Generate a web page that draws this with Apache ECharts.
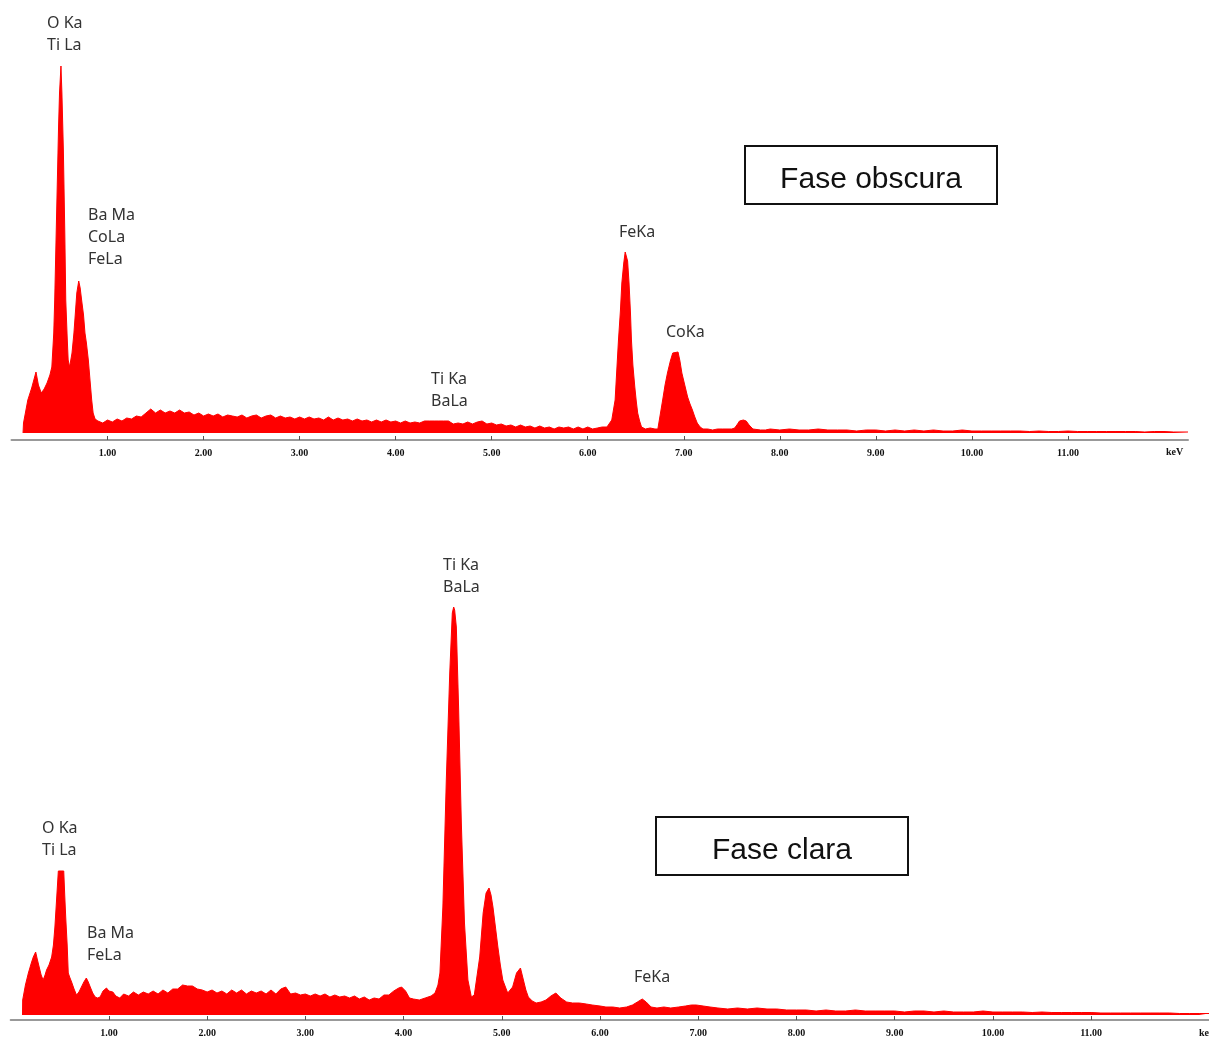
<!DOCTYPE html>
<html lang="es">
<head>
    <meta charset="UTF-8">
    <title>EDS - Fase obscura / Fase clara</title>
    <script src="https://cdn.jsdelivr.net/npm/echarts@6.0.0/dist/echarts.min.js"></script>
    <style>
        html, body { margin: 0; padding: 0; background: #fff; }
        #main { width: 1209px; height: 1038px; }
    </style>
</head>
<body>
    <div id="main"></div>
    <script>
        // Spectrum: [energy keV, counts (arbitrary units)]
        var darkPhase = [
            [0.12, 0], [0.125, 10], [0.17, 33], [0.21, 45], [0.255, 61], [0.28, 48], [0.31, 40], [0.34, 44],
            [0.37, 50], [0.40, 58], [0.42, 66], [0.44, 100], [0.45, 133], [0.47, 220], [0.49, 306], [0.50, 340],
            [0.515, 367], [0.525, 340], [0.54, 283], [0.555, 200], [0.565, 133], [0.58, 95], [0.59, 73],
            [0.605, 66], [0.615, 68], [0.63, 80], [0.65, 100], [0.665, 120], [0.68, 140], [0.70, 152],
            [0.715, 145], [0.73, 133], [0.75, 118], [0.765, 100], [0.78, 90], [0.80, 73], [0.82, 50],
            [0.835, 33], [0.85, 20], [0.87, 14],
            [0.90, 12], [0.95, 10], [1.00, 13], [1.05, 11], [1.10, 14], [1.15, 12], [1.20, 15], [1.25, 14],
            [1.30, 17], [1.35, 16], [1.40, 20], [1.45, 24], [1.50, 20], [1.55, 23], [1.60, 20], [1.65, 22],
            [1.70, 20], [1.75, 23], [1.80, 20], [1.85, 21], [1.90, 18], [1.95, 20], [2.00, 17], [2.05, 19],
            [2.10, 17], [2.15, 19], [2.20, 16], [2.25, 18], [2.30, 17], [2.35, 16], [2.40, 18], [2.45, 15],
            [2.50, 17], [2.55, 18], [2.60, 15], [2.65, 17], [2.70, 18], [2.75, 15], [2.80, 17], [2.85, 15],
            [2.90, 16], [2.95, 14], [3.00, 16], [3.05, 14], [3.10, 16], [3.15, 14], [3.20, 15], [3.25, 13],
            [3.30, 16], [3.35, 13], [3.40, 15], [3.45, 13], [3.50, 14], [3.55, 12], [3.60, 14], [3.65, 12],
            [3.70, 13], [3.75, 11], [3.80, 13], [3.85, 11], [3.90, 13], [3.95, 11], [4.00, 12], [4.05, 10],
            [4.10, 12], [4.15, 10], [4.20, 11], [4.25, 10], [4.30, 12], [4.35, 12], [4.40, 12], [4.45, 12],
            [4.50, 12], [4.55, 12], [4.60, 9], [4.65, 10], [4.70, 9], [4.75, 11], [4.80, 9], [4.85, 11],
            [4.90, 12], [4.95, 9], [5.00, 10], [5.05, 8], [5.10, 9], [5.15, 7], [5.20, 8], [5.25, 6],
            [5.30, 8], [5.35, 6], [5.40, 7], [5.45, 5], [5.50, 7], [5.55, 5], [5.60, 6], [5.65, 4],
            [5.70, 6], [5.75, 5], [5.80, 6], [5.85, 4], [5.90, 6], [5.95, 4], [6.00, 6], [6.05, 4],
            [6.10, 5], [6.15, 6], [6.20, 6],
            [6.25, 13], [6.285, 33], [6.32, 93], [6.34, 122], [6.355, 150], [6.375, 170], [6.39, 181],
            [6.405, 181], [6.415, 172], [6.43, 150], [6.445, 120], [6.455, 93], [6.47, 68], [6.49, 46],
            [6.505, 32], [6.52, 20], [6.54, 12], [6.56, 6], [6.60, 4], [6.65, 5], [6.70, 4], [6.73, 4],
            [6.745, 6], [6.78, 33], [6.805, 48], [6.83, 60], [6.86, 72], [6.885, 80], [6.90, 81], [6.94, 81],
            [6.96, 72], [6.98, 60], [7.01, 48], [7.04, 36], [7.065, 29], [7.09, 23], [7.115, 16], [7.14, 10],
            [7.17, 6], [7.20, 4], [7.25, 4], [7.30, 3], [7.35, 4], [7.40, 4], [7.45, 4], [7.50, 4],
            [7.53, 5], [7.56, 9], [7.58, 12], [7.62, 13], [7.65, 12], [7.68, 8], [7.72, 4], [7.80, 3],
            [7.85, 3], [7.90, 4],
            [8.0, 3], [8.1, 4], [8.2, 3], [8.3, 3], [8.4, 4], [8.5, 3], [8.6, 3], [8.7, 3], [8.8, 2],
            [8.9, 3], [9.0, 3], [9.1, 2], [9.2, 3], [9.3, 2], [9.4, 3], [9.5, 2], [9.6, 3], [9.7, 2],
            [9.8, 2], [9.9, 3], [10.0, 2], [10.1, 2], [10.2, 2], [10.3, 2], [10.4, 2], [10.5, 2],
            [10.6, 1.5], [10.7, 2], [10.8, 1.5], [10.9, 1.5], [11.0, 2], [11.1, 1.5], [11.2, 1.5],
            [11.3, 1.5], [11.4, 1.5], [11.5, 1.5], [11.6, 1.5], [11.7, 1.5], [11.8, 1], [11.9, 1.5],
            [12.0, 1.5], [12.1, 1], [12.25, 1]
        ];

        var lightPhase = [
            [0.12, 0], [0.122, 15], [0.15, 30], [0.18, 42], [0.21, 52], [0.23, 58], [0.254, 63], [0.27, 56],
            [0.29, 48], [0.31, 40], [0.33, 35], [0.35, 40], [0.365, 45], [0.39, 50], [0.417, 58], [0.435, 70],
            [0.45, 88], [0.47, 120], [0.485, 144], [0.54, 144], [0.55, 120], [0.56, 98], [0.575, 70],
            [0.586, 42], [0.60, 38], [0.62, 33], [0.645, 26], [0.67, 20], [0.695, 23], [0.72, 28],
            [0.745, 33], [0.77, 37], [0.79, 33], [0.81, 28], [0.835, 22], [0.86, 18], [0.885, 17],
            [0.91, 18], [0.94, 24], [0.975, 27], [1.00, 24], [1.04, 23], [1.07, 19], [1.11, 17],
            [1.15, 21], [1.20, 19], [1.25, 23], [1.30, 20], [1.35, 23], [1.40, 21], [1.45, 24], [1.50, 21],
            [1.55, 25], [1.60, 22], [1.65, 26], [1.70, 26], [1.75, 30], [1.80, 29], [1.85, 29], [1.90, 26],
            [1.95, 25], [2.00, 23], [2.05, 25], [2.10, 22], [2.15, 24], [2.20, 21], [2.25, 25], [2.30, 22],
            [2.35, 25], [2.40, 21], [2.45, 24], [2.50, 22], [2.55, 24], [2.60, 21], [2.65, 25], [2.70, 21],
            [2.75, 26], [2.80, 28], [2.85, 21], [2.90, 22], [2.95, 20], [3.00, 21], [3.05, 19], [3.10, 21],
            [3.15, 19], [3.20, 21], [3.25, 18], [3.30, 20], [3.35, 18], [3.40, 19], [3.45, 17], [3.50, 19],
            [3.55, 16], [3.60, 18], [3.65, 15], [3.70, 17], [3.75, 16], [3.80, 20], [3.85, 20], [3.90, 24],
            [3.95, 27], [3.98, 28], [4.02, 24], [4.06, 17], [4.10, 16], [4.16, 15], [4.22, 17], [4.28, 19],
            [4.32, 22], [4.35, 30], [4.37, 42], [4.40, 108], [4.435, 235], [4.47, 342], [4.496, 402],
            [4.51, 408], [4.52, 405], [4.537, 388], [4.56, 308], [4.588, 192], [4.62, 92], [4.655, 35],
            [4.69, 18], [4.72, 20], [4.74, 22], [4.775, 58], [4.81, 102], [4.84, 122], [4.87, 127],
            [4.89, 120], [4.91, 108], [4.935, 88], [4.96, 68], [4.985, 50], [5.01, 35], [5.06, 22],
            [5.11, 28], [5.15, 42], [5.19, 47], [5.22, 35], [5.245, 25], [5.27, 18], [5.31, 14], [5.35, 12],
            [5.40, 13], [5.45, 15], [5.50, 19], [5.55, 22], [5.60, 17], [5.66, 13], [5.72, 12], [5.79, 12],
            [5.86, 11], [5.92, 10], [6.00, 9], [6.06, 8], [6.13, 8], [6.20, 7], [6.27, 8], [6.33, 10],
            [6.38, 13], [6.43, 16], [6.47, 13], [6.52, 8], [6.58, 7], [6.65, 8], [6.72, 7], [6.80, 8],
            [6.87, 9], [6.93, 10], [6.98, 10], [7.05, 9], [7.12, 8], [7.20, 7], [7.30, 6], [7.40, 7],
            [7.50, 6], [7.60, 7], [7.70, 6], [7.80, 6], [7.90, 5],
            [8.0, 5], [8.1, 5], [8.2, 4], [8.3, 5], [8.4, 4], [8.5, 4], [8.6, 5], [8.7, 4], [8.8, 4],
            [8.9, 4], [9.0, 4], [9.1, 3], [9.2, 4], [9.3, 4], [9.4, 3], [9.5, 4], [9.6, 3], [9.7, 3],
            [9.8, 3], [9.9, 4], [10.0, 3], [10.1, 3], [10.2, 3], [10.3, 3], [10.4, 2.5], [10.5, 3],
            [10.6, 2.5], [10.7, 2.5], [10.8, 2.5], [10.9, 2.5], [11.0, 2.5], [11.1, 2], [11.2, 2],
            [11.3, 2], [11.4, 2], [11.5, 2], [11.6, 2], [11.7, 2], [11.8, 2], [11.9, 1.5], [12.0, 1.5],
            [12.1, 1.5], [12.2, 1.5]
        ];

        // labelled keV ticks
        var tickValues = [1, 2, 3, 4, 5, 6, 7, 8, 9, 10, 11];

        var chartDom = document.getElementById('main');
        var myChart = echarts.init(chartDom);

        var annoFont = { fontFamily: 'Noto Sans', fontSize: 16, fill: '#333', lineHeight: 22 };

        function anno(x, y, text) {
            return {
                type: 'text', left: x, top: y,
                style: Object.assign({ text: text }, annoFont)
            };
        }

        function keVAxis(gridIndex, max, offset) {
            return {
                type: 'value', gridIndex: gridIndex, min: 0, max: max, interval: 1,
                offset: offset,
                splitLine: { show: false },
                axisLine: { show: true, onZero: false, lineStyle: { color: '#999', width: 2 } },
                axisTick: { show: true, inside: true, length: 4, customValues: tickValues,
                            lineStyle: { color: '#555', width: 1 } },
                axisLabel: {
                    show: true, customValues: tickValues, margin: 8,
                    fontFamily: 'Liberation Serif', fontWeight: 'bold', fontSize: 10, color: '#111',
                    formatter: function (v) { return v.toFixed(2); }
                }
            };
        }

        function spectrum(idx, data) {
            return {
                type: 'line', xAxisIndex: idx, yAxisIndex: idx, data: data,
                symbol: 'none', showSymbol: false, smooth: false,
                lineStyle: { color: '#ff0000', width: 1 },
                areaStyle: { color: '#ff0000', opacity: 1 }
            };
        }

        function phaseBox(x, y, h, text) {
            return {
                type: 'group', left: x, top: y,
                children: [
                    { type: 'rect', shape: { x: 1, y: 1, width: 252, height: h },
                      style: { fill: '#fff', stroke: '#111', lineWidth: 2 } },
                    { type: 'text', x: 127, y: 6 + h / 2,
                      style: { text: text, fontFamily: 'Liberation Sans', fontSize: 30, fill: '#111',
                               align: 'center', verticalAlign: 'middle' } }
                ]
            };
        }

        var option = {
            animation: false,
            grid: [
                { left: 11.5, width: 1176.5, top: 33, height: 400 },
                { left: 10.7, width: 1199, top: 565, height: 450 }
            ],
            xAxis: [keVAxis(0, 12.25, 7), keVAxis(1, 12.2, 5)],
            yAxis: [
                { type: 'value', gridIndex: 0, min: 0, max: 400, show: false },
                { type: 'value', gridIndex: 1, min: 0, max: 450, show: false }
            ],
            series: [spectrum(0, darkPhase), spectrum(1, lightPhase)],
            graphic: [
                anno(47, 12, 'O Ka\nTi La'),
                anno(88, 204, 'Ba Ma\nCoLa\nFeLa'),
                anno(431, 368, 'Ti Ka\nBaLa'),
                anno(619, 221, 'FeKa'),
                anno(666, 321, 'CoKa'),
                anno(443, 554, 'Ti Ka\nBaLa'),
                anno(42, 817, 'O Ka\nTi La'),
                anno(87, 922, 'Ba Ma\nFeLa'),
                anno(634, 966, 'FeKa'),
                {
                    type: 'text', left: 1166, top: 447,
                    style: { text: 'keV', fontFamily: 'Liberation Serif', fontWeight: 'bold', fontSize: 10, fill: '#111' }
                },
                {
                    type: 'text', left: 1199, top: 1028,
                    style: { text: 'keV', fontFamily: 'Liberation Serif', fontWeight: 'bold', fontSize: 10, fill: '#111' }
                },
                phaseBox(744, 145, 58, 'Fase obscura'),
                phaseBox(655, 816, 58, 'Fase clara')
            ]
        };

        myChart.setOption(option);
    </script>
</body>
</html>
